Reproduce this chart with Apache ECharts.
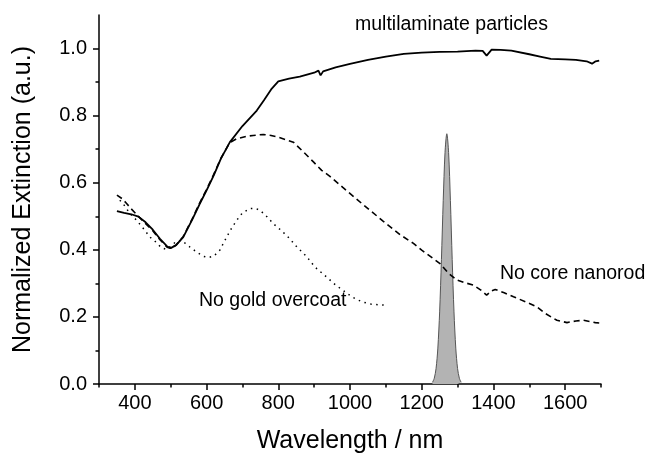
<!DOCTYPE html>
<html>
<head>
<meta charset="utf-8">
<script src="https://cdn.jsdelivr.net/npm/echarts@6/dist/echarts.min.js"></script>
<style>
  html, body { margin: 0; padding: 0; background: #ffffff; }
  #chart { width: 648px; height: 457px; }
</style>
</head>
<body>
<div id="chart"></div>
<script>
// ---- data ----
const multiWl = [350, 370, 390, 410, 430, 450, 470, 490, 500, 515, 535, 560, 580, 600, 620, 640, 665, 700, 740, 760, 780, 800, 830, 860, 900, 912, 918, 925, 960, 1000, 1050, 1100, 1150, 1200, 1250, 1300, 1350, 1370, 1381, 1395, 1420, 1450, 1500, 1530, 1560, 1600, 1630, 1660, 1675, 1685, 1695];
const multiVal = [0.515, 0.510, 0.506, 0.499, 0.482, 0.460, 0.433, 0.410, 0.405, 0.414, 0.438, 0.490, 0.535, 0.577, 0.622, 0.672, 0.721, 0.769, 0.815, 0.846, 0.878, 0.902, 0.910, 0.916, 0.928, 0.934, 0.920, 0.932, 0.944, 0.954, 0.966, 0.976, 0.984, 0.988, 0.990, 0.991, 0.994, 0.993, 0.979, 0.997, 0.996, 0.994, 0.983, 0.976, 0.969, 0.968, 0.966, 0.962, 0.955, 0.962, 0.964];

const coreWl = [350, 365, 377, 390, 405, 430, 450, 470, 490, 500, 515, 535, 560, 580, 600, 620, 640, 665, 684, 710, 730, 758, 780, 805, 842, 870, 898, 921, 944, 980, 1033, 1093, 1140, 1177, 1200, 1251, 1275, 1298, 1320, 1344, 1365, 1381, 1395, 1405, 1430, 1456, 1490, 1521, 1545, 1577, 1605, 1630, 1651, 1670, 1684, 1695];
const coreVal = [0.563, 0.552, 0.538, 0.522, 0.505, 0.478, 0.457, 0.430, 0.408, 0.404, 0.414, 0.440, 0.492, 0.538, 0.580, 0.625, 0.673, 0.720, 0.731, 0.738, 0.741, 0.744, 0.741, 0.734, 0.721, 0.692, 0.662, 0.637, 0.619, 0.586, 0.538, 0.485, 0.445, 0.419, 0.399, 0.359, 0.330, 0.310, 0.302, 0.295, 0.280, 0.265, 0.278, 0.282, 0.272, 0.260, 0.245, 0.230, 0.210, 0.190, 0.183, 0.188, 0.190, 0.186, 0.183, 0.182];

const goldWl = [358, 367, 385, 405, 425, 442, 460, 474, 486, 500, 515, 528, 540, 553, 570, 590, 605, 620, 637, 656, 670, 684, 700, 721, 735, 749, 770, 786, 810, 833, 847, 879, 902, 939, 960, 986, 1005, 1023, 1040, 1060, 1080, 1098];
const goldVal = [0.548, 0.538, 0.510, 0.488, 0.462, 0.438, 0.422, 0.406, 0.402, 0.410, 0.425, 0.428, 0.420, 0.409, 0.395, 0.381, 0.377, 0.381, 0.399, 0.438, 0.465, 0.488, 0.510, 0.523, 0.524, 0.518, 0.497, 0.478, 0.456, 0.432, 0.414, 0.380, 0.349, 0.315, 0.295, 0.275, 0.260, 0.250, 0.243, 0.238, 0.236, 0.235];

const laserWl = [1230, 1235, 1240, 1245, 1250, 1255, 1260, 1265, 1270, 1275, 1280, 1285, 1290, 1295, 1300, 1305, 1310];
const laserVal = [0.005, 0.017, 0.046, 0.107, 0.215, 0.371, 0.547, 0.690, 0.746, 0.690, 0.547, 0.371, 0.215, 0.107, 0.046, 0.017, 0.005];

const xMajorTicks = [400, 600, 800, 1000, 1200, 1400, 1600];
const xMinorTicks = [300, 500, 700, 900, 1100, 1300, 1500, 1700];
const yMajorTicks = [0, 0.2, 0.4, 0.6, 0.8, 1.0];
const yMinorTicks = [0.1, 0.3, 0.5, 0.7, 0.9];

const annotations = [
  { text: 'multilaminate particles', left: 355, top: 15 },
  { text: 'No core nanorod', left: 500, top: 264 },
  { text: 'No gold overcoat', left: 199, top: 291 }
];

function pairs(xs, ys) { return xs.map((x, i) => [x, ys[i]]); }

const FONT = '"Liberation Sans", Arial, sans-serif';
const chart = echarts.init(document.getElementById('chart'), null, { renderer: 'canvas' });

const axisLineStyle = { color: '#000', width: 1.5 };

chart.setOption({
  backgroundColor: '#ffffff',
  animation: false,
  grid: { left: 99, right: 47, top: 15, bottom: 73, containLabel: false, outerBoundsMode: 'none' },
  xAxis: [
    {
      type: 'value', min: 300, max: 1700, position: 'bottom',
      name: 'Wavelength / nm', nameLocation: 'middle', nameGap: 45,
      nameTextStyle: { fontFamily: FONT, fontSize: 25, color: '#000' },
      axisLine: { show: true, onZero: false, lineStyle: axisLineStyle },
      axisTick: { show: true, inside: false, length: 6, lineStyle: { color: '#000', width: 1.5 }, customValues: xMajorTicks },
      axisLabel: { show: true, customValues: xMajorTicks, margin: 9, fontFamily: FONT, fontSize: 20, color: '#000',
                   formatter: v => String(Math.round(v)) },
      splitLine: { show: false }
    },
    {
      type: 'value', min: 300, max: 1700, position: 'bottom', offset: 0,
      axisLine: { show: false, onZero: false },
      axisTick: { show: true, inside: false, length: 3.5, lineStyle: { color: '#000', width: 1.5 }, customValues: xMinorTicks },
      axisLabel: { show: false },
      splitLine: { show: false }
    }
  ],
  yAxis: [
    {
      type: 'value', min: 0, max: 1.1, position: 'left',
      name: 'Normalized Extinction (a.u.)', nameLocation: 'middle', nameGap: 63,
      nameTextStyle: { fontFamily: FONT, fontSize: 25, color: '#000' },
      axisLine: { show: true, onZero: false, lineStyle: axisLineStyle },
      axisTick: { show: true, inside: false, length: 6, lineStyle: { color: '#000', width: 1.5 }, customValues: yMajorTicks },
      axisLabel: { show: true, customValues: yMajorTicks, margin: 12, fontFamily: FONT, fontSize: 20, color: '#000',
                   formatter: v => v.toFixed(1) },
      splitLine: { show: false }
    },
    {
      type: 'value', min: 0, max: 1.1, position: 'left', offset: 0,
      axisLine: { show: false, onZero: false },
      axisTick: { show: true, inside: false, length: 3.5, lineStyle: { color: '#000', width: 1.5 }, customValues: yMinorTicks },
      axisLabel: { show: false },
      splitLine: { show: false }
    }
  ],
  series: [
    {
      name: 'laser', type: 'line', data: pairs(laserWl, laserVal), showSymbol: false, smooth: 0.3,
      lineStyle: { color: '#555', width: 1 },
      areaStyle: { color: '#b3b3b3', opacity: 1 },
      z: 1
    },
    {
      name: 'multilaminate particles', type: 'line', data: pairs(multiWl, multiVal), showSymbol: false,
      lineStyle: { color: '#000', width: 1.8, type: 'solid' }, z: 3
    },
    {
      name: 'No core nanorod', type: 'line', data: pairs(coreWl, coreVal), showSymbol: false,
      lineStyle: { color: '#000', width: 1.6, type: [6, 4] }, z: 3
    },
    {
      name: 'No gold overcoat', type: 'line', data: pairs(goldWl, goldVal), showSymbol: false,
      lineStyle: { color: '#000', width: 1.5, type: [1.5, 4.5] }, z: 3
    }
  ],
  graphic: annotations.map(a => ({
    type: 'text', left: a.left, top: a.top,
    style: { text: a.text, fontFamily: FONT, fontSize: 19.5, fill: '#000' }
  }))
});
</script>
</body>
</html>
